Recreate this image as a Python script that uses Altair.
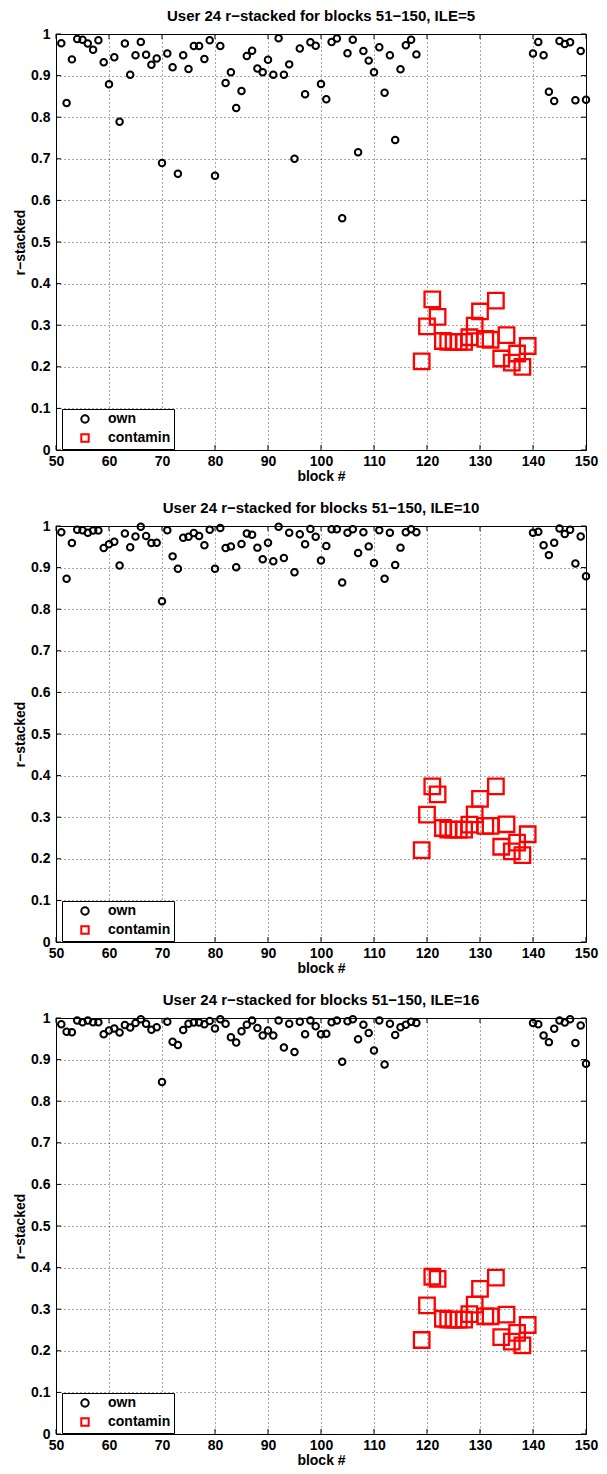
import altair as alt
import pandas as pd

# ---------------- data ----------------
BLOCKS_OWN = list(range(51, 119)) + list(range(140, 151))
BLOCKS_CONT = list(range(119, 140))
ILE_VALUES = [5, 10, 16]
X_TICKS = [50, 60, 70, 80, 90, 100, 110, 120, 130, 140, 150]
Y_TICKS = [0, 0.1, 0.2, 0.3, 0.4, 0.5, 0.6, 0.7, 0.8, 0.9, 1.0]
SERIES = ["own", "contamin"]

own_ile5 = [0.978, 0.834, 0.939, 0.988, 0.986, 0.977, 0.962, 0.985, 0.932, 0.879,
            0.944, 0.789, 0.977, 0.902, 0.949, 0.981, 0.950, 0.926, 0.941, 0.690,
            0.953, 0.920, 0.664, 0.949, 0.916, 0.971, 0.971, 0.940, 0.985, 0.659,
            0.971, 0.882, 0.908, 0.822, 0.863, 0.947, 0.960, 0.917, 0.908, 0.938,
            0.902, 0.990, 0.902, 0.927, 0.700, 0.965, 0.855, 0.980, 0.972, 0.880,
            0.843, 0.981, 0.989, 0.557, 0.954, 0.986, 0.716, 0.959, 0.936, 0.908,
            0.968, 0.859, 0.949, 0.745, 0.915, 0.973, 0.986, 0.951,
            0.953, 0.981, 0.949, 0.861, 0.839, 0.983, 0.976, 0.980, 0.841, 0.959, 0.842]
cont_ile5 = [0.213, 0.297, 0.362, 0.320, 0.262, 0.260, 0.260, 0.260, 0.260, 0.271,
             0.299, 0.333, 0.267, 0.265, 0.359, 0.220, 0.276, 0.210, 0.232, 0.200, 0.250]

own_ile10 = [0.985, 0.873, 0.959, 0.991, 0.990, 0.984, 0.989, 0.989, 0.947, 0.956,
             0.962, 0.905, 0.982, 0.949, 0.975, 0.998, 0.976, 0.959, 0.960, 0.819,
             0.990, 0.927, 0.897, 0.972, 0.974, 0.983, 0.976, 0.954, 0.991, 0.897,
             0.995, 0.947, 0.951, 0.901, 0.957, 0.982, 0.979, 0.948, 0.920, 0.960,
             0.915, 0.998, 0.923, 0.984, 0.889, 0.980, 0.956, 0.993, 0.974, 0.917,
             0.952, 0.992, 0.992, 0.864, 0.984, 0.992, 0.935, 0.985, 0.951, 0.911,
             0.990, 0.873, 0.984, 0.906, 0.948, 0.985, 0.992, 0.985,
             0.984, 0.986, 0.954, 0.930, 0.960, 0.994, 0.981, 0.991, 0.910, 0.975, 0.879]
cont_ile10 = [0.221, 0.306, 0.374, 0.355, 0.274, 0.270, 0.270, 0.270, 0.270, 0.282,
              0.307, 0.344, 0.279, 0.279, 0.374, 0.229, 0.283, 0.218, 0.239, 0.209, 0.259]

own_ile16 = [0.985, 0.967, 0.966, 0.994, 0.990, 0.994, 0.990, 0.990, 0.961, 0.970,
             0.975, 0.965, 0.983, 0.977, 0.988, 0.997, 0.986, 0.972, 0.978, 0.846,
             0.991, 0.943, 0.935, 0.971, 0.986, 0.989, 0.989, 0.985, 0.993, 0.975,
             0.997, 0.986, 0.954, 0.941, 0.968, 0.984, 0.994, 0.976, 0.958, 0.970,
             0.958, 0.994, 0.929, 0.986, 0.918, 0.991, 0.961, 0.994, 0.980, 0.961,
             0.962, 0.990, 0.994, 0.895, 0.992, 0.997, 0.949, 0.984, 0.964, 0.922,
             0.994, 0.888, 0.986, 0.959, 0.978, 0.984, 0.991, 0.988,
             0.988, 0.985, 0.958, 0.942, 0.974, 0.994, 0.989, 0.997, 0.940, 0.982, 0.890]
cont_ile16 = [0.226, 0.309, 0.378, 0.373, 0.277, 0.275, 0.275, 0.275, 0.275, 0.288,
              0.311, 0.349, 0.283, 0.283, 0.376, 0.233, 0.287, 0.222, 0.243, 0.213, 0.262]

OWN = [own_ile5, own_ile10, own_ile16]
CONT = [cont_ile5, cont_ile10, cont_ile16]

# ---------------- layout ----------------
W, H = 530, 416
FONT = "Liberation Sans"


def panel(own, cont, ile):
    df_own = pd.DataFrame({"block": BLOCKS_OWN, "r": own, "series": "own"})
    df_cont = pd.DataFrame({"block": BLOCKS_CONT, "r": cont, "series": "contamin"})
    df_xt = pd.DataFrame({"block": X_TICKS})
    df_yt = pd.DataFrame({"r": Y_TICKS})

    x = alt.X("block:Q",
              scale=alt.Scale(domain=[50, 150], nice=False, zero=False),
              axis=alt.Axis(values=X_TICKS, title="block #", format="d",
                            labelFlush=False, labelPadding=4, titlePadding=1))
    y = alt.Y("r:Q",
              scale=alt.Scale(domain=[0, 1], nice=False),
              axis=alt.Axis(values=Y_TICKS, title="r−stacked", format=".1~f",
                            labelFlush=False, labelPadding=6, titlePadding=3))
    leg = alt.Legend(title=None, orient="none", legendX=6, legendY=H - 41,
                     fillColor="white", strokeColor="black",
                     padding=3, symbolOffset=13, labelOffset=16,
                     symbolSize=55, symbolStrokeWidth=2, rowPadding=3,
                     symbolOpacity=1, labelExpr="datum.label + ' '",
                     labelFont=FONT, labelFontSize=14, labelFontWeight="bold",
                     labelColor="black")
    color = alt.Color("series:N", scale=alt.Scale(domain=SERIES, range=["black", "red"]), legend=leg)
    shape = alt.Shape("series:N", scale=alt.Scale(domain=SERIES, range=["circle", "square"]), legend=leg)

    own_layer = alt.Chart(df_own).mark_point(size=42, strokeWidth=2, filled=False, opacity=1).encode(
        x=x, y=y, color=color, shape=shape)
    cont_layer = alt.Chart(df_cont).mark_point(size=240, strokeWidth=2.3, filled=False, opacity=1).encode(
        x=x, y=y, color=color, shape=shape)

    tick_b = alt.Chart(df_xt).mark_rule(color="black", strokeWidth=1).encode(
        x=x, y=alt.value(H), y2=alt.value(H - 5))
    tick_t = alt.Chart(df_xt).mark_rule(color="black", strokeWidth=1).encode(
        x=x, y=alt.value(0), y2=alt.value(5))
    tick_l = alt.Chart(df_yt).mark_rule(color="black", strokeWidth=1).encode(
        y=y, x=alt.value(0), x2=alt.value(5))
    tick_r = alt.Chart(df_yt).mark_rule(color="black", strokeWidth=1).encode(
        y=y, x=alt.value(W), x2=alt.value(W - 5))

    return alt.layer(tick_b, tick_t, tick_l, tick_r, cont_layer, own_layer).properties(
        width=W, height=H,
        title=alt.TitleParams(text=f"User 24 r−stacked for blocks 51−150, ILE={ile}",
                              font=FONT, fontSize=15, fontWeight="bold",
                              color="black", offset=3, anchor="middle"),
    )


panels = [panel(o, c, i) for o, c, i in zip(OWN, CONT, ILE_VALUES)]

chart = alt.vconcat(*panels, spacing=16).resolve_scale(
    color="independent", shape="independent"
).resolve_legend(
    color="independent", shape="independent"
).properties(
    padding={"left": 5, "top": 0, "right": 0, "bottom": 0},
    background="white",
).configure_view(
    stroke="black", strokeWidth=1
).configure_axis(
    grid=True, gridDash=[1, 3], gridColor="#000", gridOpacity=0.7, gridWidth=1,
    domain=False, ticks=False,
    labelFont=FONT, labelFontSize=14, labelFontWeight="bold", labelColor="black",
    titleFont=FONT, titleFontSize=14, titleFontWeight="bold", titleColor="black",
)

chart.save("out.html", embed_options={"renderer": "svg", "actions": False})
